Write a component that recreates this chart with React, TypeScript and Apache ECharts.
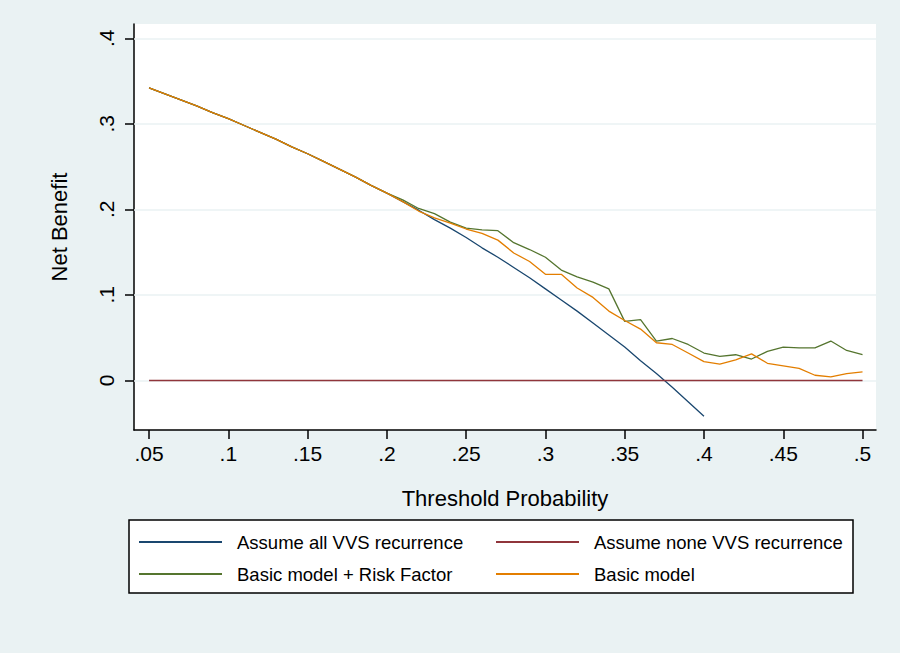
import React, { useEffect, useRef } from "react";
import * as echarts from "echarts";

// Threshold probabilities (x)
const thresholds = [
  0.05, 0.06, 0.07, 0.08, 0.09, 0.1, 0.11, 0.12, 0.13, 0.14,
  0.15, 0.16, 0.17, 0.18, 0.19, 0.2, 0.21, 0.22, 0.23, 0.24,
  0.25, 0.26, 0.27, 0.28, 0.29, 0.3, 0.31, 0.32, 0.33, 0.34,
  0.35, 0.36, 0.37, 0.38, 0.39, 0.4, 0.41, 0.42, 0.43, 0.44,
  0.45, 0.46, 0.47, 0.48, 0.49, 0.5,
];

// Assume all VVS recurrence (0.05 .. 0.40)
const treatAll = [
  0.342, 0.335, 0.328, 0.321, 0.313, 0.306, 0.298, 0.29, 0.282, 0.273,
  0.265, 0.256, 0.247, 0.238, 0.228, 0.219, 0.209, 0.199, 0.188, 0.178,
  0.167, 0.155, 0.144, 0.132, 0.12, 0.107, 0.094, 0.081, 0.067, 0.053,
  0.039, 0.023, 0.008, -0.008, -0.025, -0.042,
];

// Assume none VVS recurrence
const treatNone = [
  0, 0, 0, 0, 0, 0, 0, 0, 0, 0, 0, 0, 0, 0, 0, 0, 0, 0, 0, 0, 0, 0, 0,
  0, 0, 0, 0, 0, 0, 0, 0, 0, 0, 0, 0, 0, 0, 0, 0, 0, 0, 0, 0, 0, 0, 0,
];

// Basic model + Risk Factor
const modelRisk = [
  0.342, 0.335, 0.328, 0.321, 0.313, 0.306, 0.298, 0.29, 0.282, 0.273,
  0.265, 0.256, 0.247, 0.238, 0.228, 0.219, 0.211, 0.201, 0.195, 0.185,
  0.178, 0.176, 0.175, 0.161, 0.153, 0.144, 0.129, 0.121, 0.115, 0.107,
  0.069, 0.071, 0.046, 0.049, 0.042, 0.032, 0.028, 0.03, 0.025, 0.034,
  0.039, 0.038, 0.038, 0.046, 0.035, 0.03,
];

// Basic model
const modelBasic = [
  0.342, 0.335, 0.328, 0.321, 0.313, 0.306, 0.298, 0.29, 0.282, 0.273,
  0.265, 0.256, 0.247, 0.238, 0.228, 0.219, 0.209, 0.198, 0.19, 0.184,
  0.177, 0.172, 0.164, 0.149, 0.139, 0.124, 0.124, 0.108, 0.097, 0.081,
  0.07, 0.06, 0.044, 0.042, 0.032, 0.022, 0.019, 0.024, 0.031, 0.02,
  0.017, 0.014, 0.006, 0.004, 0.008, 0.01,
];

const xTickValues = [0.05, 0.1, 0.15, 0.2, 0.25, 0.3, 0.35, 0.4, 0.45, 0.5];
const yTickValues = [0, 0.1, 0.2, 0.3, 0.4];

const seriesNames = [
  "Assume all VVS recurrence",
  "Assume none VVS recurrence",
  "Basic model + Risk Factor",
  "Basic model",
];

const FONT = "'Liberation Sans', Arial, sans-serif";
const BG = "#eaf2f3";

const fmt = (v: number) =>
  v === 0 ? "0" : String(v).replace(/^0\./, ".").replace(/^-0\./, "-.");

const pairs = (vals: number[]) => vals.map((v, i) => [thresholds[i], v]);

export default function App() {
  const ref = useRef<HTMLDivElement>(null);

  useEffect(() => {
    const chart = echarts.init(ref.current!, null, { renderer: "svg" });
    const legendCommon = {
      orient: "vertical",
      top: 527,
      icon: "rect",
      itemWidth: 83,
      itemHeight: 2,
      itemGap: 12,
      selectedMode: false,
      textStyle: {
        fontFamily: FONT,
        fontSize: 18.5,
        color: "#000",
        lineHeight: 20,
        padding: [0, 0, 0, 10],
      },
    };
    chart.setOption({
      animation: false,
      backgroundColor: BG,
      textStyle: { fontFamily: FONT },
      grid: {
        left: 134,
        top: 24,
        right: 24,
        bottom: 223,
        show: true,
        backgroundColor: "#ffffff",
        borderWidth: 0,
        z: 0,
      },
      graphic: [
        {
          type: "rect",
          shape: { x: 129, y: 520, width: 724, height: 73 },
          style: { fill: "#ffffff", stroke: "#000000", lineWidth: 1.5 },
          z: 0,
        },
      ],
      legend: [
        { ...legendCommon, left: 134, data: [seriesNames[0], seriesNames[2]] },
        { ...legendCommon, left: 491, data: [seriesNames[1], seriesNames[3]] },
      ],
      xAxis: {
        type: "value",
        min: 0.0405,
        max: 0.5085,
        name: "Threshold Probability",
        nameLocation: "middle",
        nameGap: 57,
        nameTextStyle: { fontFamily: FONT, fontSize: 22, color: "#000" },
        axisLine: { show: true, onZero: false, lineStyle: { color: "#000", width: 1.5 } },
        axisTick: {
          show: true,
          customValues: xTickValues,
          length: 9,
          lineStyle: { color: "#000", width: 1.5 },
        },
        axisLabel: {
          customValues: xTickValues,
          formatter: fmt,
          fontFamily: FONT,
          fontSize: 21,
          color: "#000",
          margin: 13,
        },
        splitLine: { show: false },
      },
      yAxis: {
        type: "value",
        min: -0.058,
        max: 0.4167,
        name: "Net Benefit",
        nameLocation: "middle",
        nameGap: 64,
        nameTextStyle: { fontFamily: FONT, fontSize: 22, color: "#000" },
        axisLine: { show: true, onZero: false, lineStyle: { color: "#000", width: 1.5 } },
        axisTick: {
          show: true,
          customValues: yTickValues,
          length: 9,
          lineStyle: { color: "#000", width: 1.5 },
        },
        axisLabel: {
          customValues: yTickValues,
          formatter: fmt,
          rotate: 90,
          fontFamily: FONT,
          fontSize: 21,
          color: "#000",
          margin: 17,
        },
        splitLine: { show: false },
      },
      series: [
        {
          name: seriesNames[0],
          type: "line",
          data: pairs(treatAll),
          showSymbol: false,
          color: "#1a476f",
          lineStyle: { width: 1.3, color: "#1a476f" },
          markLine: {
            silent: true,
            z: 1,
            symbol: "none",
            label: { show: false },
            lineStyle: { color: BG, width: 1.5, type: "solid" },
            data: yTickValues.map((v) => ({ yAxis: v })),
          },
          z: 2,
        },
        {
          name: seriesNames[1],
          type: "line",
          data: pairs(treatNone),
          showSymbol: false,
          color: "#90353b",
          lineStyle: { width: 1.5, color: "#90353b" },
          z: 3,
        },
        {
          name: seriesNames[2],
          type: "line",
          data: pairs(modelRisk),
          showSymbol: false,
          color: "#55752f",
          lineStyle: { width: 1.3, color: "#55752f" },
          z: 4,
        },
        {
          name: seriesNames[3],
          type: "line",
          data: pairs(modelBasic),
          showSymbol: false,
          color: "#e37e00",
          lineStyle: { width: 1.3, color: "#e37e00" },
          z: 5,
        },
      ],
    });
    return () => chart.dispose();
  }, []);

  return (
    <div
      ref={ref}
      style={{ position: "absolute", left: 0, top: 0, width: 900, height: 653 }}
    />
  );
}
